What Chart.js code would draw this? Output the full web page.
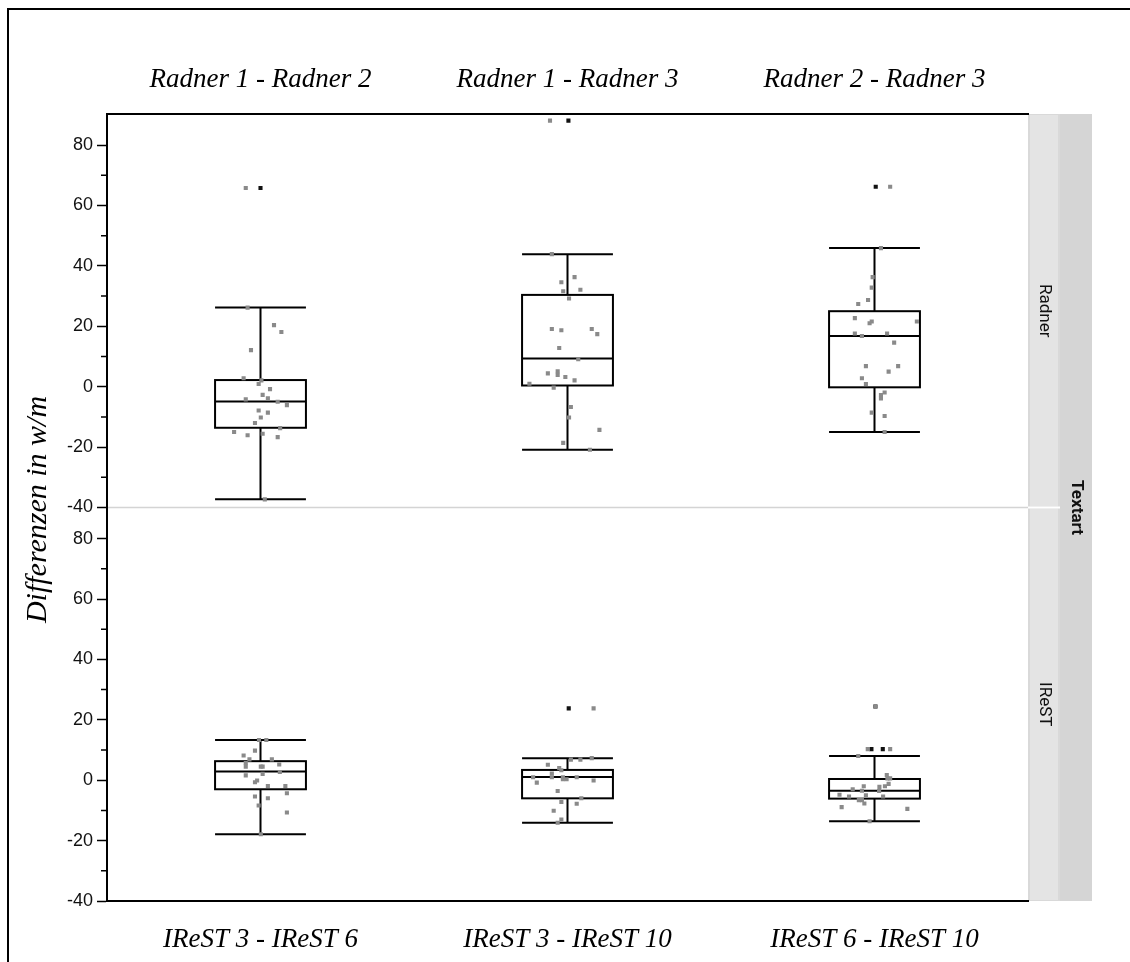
<!DOCTYPE html>
<html>
<head>
<meta charset="utf-8">
<script src="https://cdn.jsdelivr.net/npm/chart.js@4.4.1/dist/chart.umd.min.js"></script>
<style>
  html, body { margin: 0; padding: 0; background: #fff; }
  canvas { display: block; }
</style>
</head>
<body>
<canvas id="c" width="1130" height="962"></canvas>
<script>
// ---- categories and labels ----
const topLabels = ['Radner 1 - Radner 2', 'Radner 1 - Radner 3', 'Radner 2 - Radner 3'];
const bottomLabels = ['IReST 3 - IReST 6', 'IReST 3 - IReST 10', 'IReST 6 - IReST 10'];
const panelNames = ['Radner', 'IReST'];
const stripTitle = 'Textart';
const yTitle = 'Differenzen in w/m';
const majorTicks = [-40, -20, 0, 20, 40, 60, 80];
const minorTicks = [-30, -10, 10, 30, 50, 70];

// ---- box summaries: [lower whisker, Q1, median, Q3, upper whisker] ----
const radnerBoxes = [
  [-37.3, -13.6, -4.9, 2.2, 26.2],
  [-20.9, 0.4, 9.3, 30.4, 43.9],
  [-15.0, -0.2, 16.8, 25.0, 45.9]
];
const irestBoxes = [
  [-17.9, -3.0, 2.9, 6.3, 13.3],
  [-14.1, -6.0, 1.1, 3.4, 7.3],
  [-13.6, -6.1, -3.5, 0.4, 8.0]
];

// ---- individual differences (w/m) and their horizontal jitter (category units) ----
const radner12 = [65.8, 26.2, 20.4, 18.1, 12.1, 2.8, 2.1, 0.9, -0.8, -2.7, -3.8, -4.2, -5.0, -6.1, -7.9, -8.6, -10.2, -12.0, -13.7, -15.0, -16.1, -15.6, -16.7, -37.3];
const radner12Jitter = [-0.048, -0.042, 0.044, 0.068, -0.031, -0.055, 0.003, -0.006, 0.031, 0.007, 0.024, -0.048, 0.056, 0.086, -0.006, 0.024, 0.001, -0.018, 0.064, -0.086, -0.042, 0.007, 0.056, 0.014];

const radner13 = [88.1, 43.9, 36.3, 34.6, 32.1, 31.6, 29.2, 19.1, 18.7, 19.1, 17.4, 12.8, 9.1, 4.4, 5.1, 3.9, 3.2, 2.1, 1.0, -0.3, -6.7, -10.2, -14.3, -18.6, -20.9];
const radner13Jitter = [-0.057, -0.051, 0.023, -0.020, 0.042, -0.014, 0.005, -0.051, -0.020, 0.079, 0.097, -0.027, 0.035, -0.064, -0.032, -0.032, -0.007, 0.023, -0.124, -0.045, 0.011, 0.005, 0.104, -0.014, 0.073];

const radner23 = [66.2, 45.9, 36.3, 32.8, 28.7, 27.4, 22.7, 21.0, 21.6, 21.6, 17.6, 16.8, 17.6, 14.6, 6.8, 6.8, 5.0, 2.8, 0.9, -1.9, -2.8, -3.9, -8.6, -9.7, -15.0];
const radner23Jitter = [0.051, 0.021, -0.006, -0.009, -0.021, -0.053, -0.064, -0.016, -0.009, 0.138, -0.064, -0.041, 0.041, 0.064, -0.028, 0.077, 0.046, -0.041, -0.028, 0.033, 0.021, 0.021, -0.009, 0.033, 0.033];

const irest36 = [13.3, 13.3, 9.8, 8.2, 6.9, 5.7, 6.9, 4.5, 4.5, 4.5, 5.2, 2.1, 2.7, 1.6, -0.1, -0.7, -1.9, -1.9, -4.3, -5.4, -6.0, -8.4, -10.7, -17.9];
const irest36Jitter = [-0.005, 0.019, -0.018, -0.055, -0.036, -0.048, 0.037, -0.048, 0.001, 0.007, 0.061, 0.007, 0.063, -0.048, -0.011, -0.018, 0.024, 0.081, 0.086, -0.018, 0.024, -0.006, 0.086, 0.001];

const irest310 = [23.8, 6.8, 6.8, 7.3, 5.1, 4.0, 3.3, 2.2, 1.0, 1.0, 1.0, 0.3, 0.3, 1.0, -0.1, -0.8, -3.6, -6.0, -7.2, -7.8, -10.1, -13.0, -14.1];
const irest310Jitter = [0.085, 0.011, 0.042, 0.079, -0.064, -0.027, -0.020, -0.051, -0.051, -0.112, -0.015, -0.015, -0.003, 0.030, 0.085, -0.100, -0.032, 0.045, -0.020, 0.030, -0.045, -0.020, -0.032];

const irest610 = [24.4, 10.3, 10.3, 8.0, 1.7, 0.6, 0.6, -1.2, -2.0, -2.0, -2.2, -3.0, -3.5, -3.6, -4.8, -5.0, -5.4, -5.4, -6.6, -6.6, -7.7, -8.9, -9.5, -13.6];
const irest610Jitter = [0.003, -0.022, 0.051, -0.053, 0.040, 0.042, 0.051, 0.046, 0.034, -0.035, 0.016, -0.071, -0.041, 0.015, -0.114, -0.028, -0.083, 0.028, -0.051, -0.041, -0.033, -0.107, 0.107, -0.016];

// ---- outliers beyond the whiskers (values and small offsets) ----
const radnerOutliers = [[65.8], [88.1], [66.2]];
const radnerOutlierJitter = [[0.0], [0.003], [0.004]];
const irestOutliers = [[], [23.8], [24.4, 10.3, 10.3]];
const irestOutlierJitter = [[], [0.004], [0.003, -0.010, 0.027]];

// ---- helpers ----
function pts(values, jitter, cat) {
  return values.map((v, i) => ({ x: cat + jitter[i], y: v }));
}
function outlierPts(groups, jitters) {
  const out = [];
  groups.forEach((g, cat) => g.forEach((v, i) => out.push({ x: cat + jitters[cat][i], y: v })));
  return out;
}

const POINT_GREY = '#8a8a8a';
const BOX_HALF = 0.148;   // half box width in category units
const SANS = '"Liberation Sans", Arial, Helvetica, sans-serif';
const STRIP_FONT = 'Roboto, "Liberation Sans", Arial, sans-serif';
const SERIF = '"Liberation Serif", "Times New Roman", serif';

function pointSet(data, yAxisID, color) {
  return {
    type: 'scatter', data, xAxisID: 'x', yAxisID,
    pointStyle: 'rect', pointRadius: 2.9, pointHoverRadius: 2.9,
    backgroundColor: color, borderWidth: 0
  };
}

const datasets = [
  pointSet(pts(radner12, radner12Jitter, 0), 'yR', POINT_GREY),
  pointSet(pts(radner13, radner13Jitter, 1), 'yR', POINT_GREY),
  pointSet(pts(radner23, radner23Jitter, 2), 'yR', POINT_GREY),
  pointSet(pts(irest36, irest36Jitter, 0), 'yI', POINT_GREY),
  pointSet(pts(irest310, irest310Jitter, 1), 'yI', POINT_GREY),
  pointSet(pts(irest610, irest610Jitter, 2), 'yI', POINT_GREY),
  pointSet(outlierPts(radnerOutliers, radnerOutlierJitter), 'yR', '#111'),
  pointSet(outlierPts(irestOutliers, irestOutlierJitter), 'yI', '#111')
];

// box-and-whisker drawing, facet strips, frame and axis title
const boxPlotPlugin = {
  id: 'boxPlot',
  beforeDraw(chart) {
    const { ctx, chartArea } = chart;
    const yR = chart.scales.yR, yI = chart.scales.yI;
    ctx.save();
    // outer frame
    ctx.strokeStyle = '#000';
    ctx.lineWidth = 2;
    ctx.beginPath();
    ctx.moveTo(8, 962);
    ctx.lineTo(8, 9);
    ctx.lineTo(1130, 9);
    ctx.stroke();

    // facet strips
    const sx = chartArea.right, sw = 32;
    ctx.fillStyle = '#d5d5d5';
    ctx.fillRect(sx + sw, chartArea.top, sw, chartArea.bottom - chartArea.top);
    [yR, yI].forEach((s, k) => {
      ctx.fillStyle = '#d9d9d9';
      ctx.fillRect(sx, s.top, sw, s.bottom - s.top);
      ctx.fillStyle = '#e4e4e4';
      ctx.fillRect(sx + 2, s.top + 1, sw - 4, s.bottom - s.top - 2);
      ctx.save();
      ctx.translate(sx + sw / 2, (s.top + s.bottom) / 2);
      ctx.rotate(Math.PI / 2);
      ctx.fillStyle = '#111';
      ctx.font = '17px ' + STRIP_FONT;
      ctx.textAlign = 'center';
      ctx.textBaseline = 'middle';
      ctx.fillText(panelNames[k], 0, 0);
      ctx.restore();
    });
    ctx.fillStyle = '#fff';
    ctx.fillRect(sx, yR.bottom - 1, sw, 2);

    ctx.save();
    ctx.translate(sx + sw * 1.5, (chartArea.top + chartArea.bottom) / 2);
    ctx.rotate(Math.PI / 2);
    ctx.fillStyle = '#111';
    ctx.font = 'bold 17px ' + STRIP_FONT;
    ctx.textAlign = 'center';
    ctx.textBaseline = 'middle';
    ctx.fillText(stripTitle, 0, 0);
    ctx.restore();

    // y-axis title
    ctx.save();
    ctx.translate(38, (chartArea.top + chartArea.bottom) / 2 + 2);
    ctx.rotate(-Math.PI / 2);
    ctx.fillStyle = '#000';
    ctx.font = 'italic 30px ' + SERIF;
    ctx.textAlign = 'center';
    ctx.textBaseline = 'middle';
    ctx.fillText(yTitle, 0, 0);
    ctx.restore();
    ctx.restore();
  },
  beforeDatasetsDraw(chart) {
    const { ctx, chartArea } = chart;
    const x = chart.scales.x;
    const yR = chart.scales.yR, yI = chart.scales.yI;
    ctx.save();
    // panel separator
    ctx.strokeStyle = '#d4d4d4';
    ctx.lineWidth = 1.5;
    ctx.beginPath();
    ctx.moveTo(chartArea.left + 1, yR.bottom);
    ctx.lineTo(chartArea.right, yR.bottom);
    ctx.stroke();

    ctx.strokeStyle = '#000';
    ctx.lineWidth = 2;
    [[yR, radnerBoxes], [yI, irestBoxes]].forEach(([ys, boxes]) => {
      boxes.forEach((b, i) => {
        const cx = x.getPixelForValue(i);
        const l = x.getPixelForValue(i - BOX_HALF);
        const r = x.getPixelForValue(i + BOX_HALF);
        const [lo, q1, med, q3, hi] = b.map(v => ys.getPixelForValue(v));
        ctx.beginPath();
        // whiskers
        ctx.moveTo(cx, hi); ctx.lineTo(cx, q3);
        ctx.moveTo(cx, q1); ctx.lineTo(cx, lo);
        // caps
        ctx.moveTo(l, hi); ctx.lineTo(r, hi);
        ctx.moveTo(l, lo); ctx.lineTo(r, lo);
        // median
        ctx.moveTo(l, med); ctx.lineTo(r, med);
        ctx.stroke();
        ctx.strokeRect(l, q3, r - l, q1 - q3);
      });
    });
    ctx.restore();
  },
  afterDraw(chart) {
    const { ctx, chartArea } = chart;
    ctx.save();
    ctx.strokeStyle = '#000';
    ctx.lineWidth = 1.5;
    ctx.beginPath();
    [chart.scales.yR, chart.scales.yI].forEach(s => {
      minorTicks.forEach(v => {
        const py = s.getPixelForValue(v);
        ctx.moveTo(chartArea.left - 6, py);
        ctx.lineTo(chartArea.left, py);
      });
    });
    ctx.stroke();
    ctx.restore();
  }
};

const serifItalic = { family: SERIF, style: 'italic', size: 27 };
const sansTicks = { family: SANS, size: 18 };

function xAxis(position, labels, height, padding) {
  return {
    type: 'linear', position, min: -0.5, max: 2.5,
    afterBuildTicks: s => { s.ticks = labels.map((_, i) => ({ value: i })); },
    afterFit: s => { s.height = height; },
    ticks: { callback: v => labels[v], font: serifItalic, color: '#000', padding, maxRotation: 0, autoSkip: false },
    grid: { display: false },
    border: { display: true, color: '#000', width: 2 }
  };
}
function yAxis(weight) {
  return {
    type: 'linear', position: 'left', stack: 'panels', stackWeight: 1, weight,
    min: -40, max: 90.3,
    afterBuildTicks: s => { s.ticks = majorTicks.map(v => ({ value: v })); },
    afterFit: s => { s.width = 107; },
    ticks: { font: sansTicks, color: '#111', padding: 4 },
    grid: { drawOnChartArea: false, tickLength: 10, color: '#000', tickWidth: 1.5 },
    border: { display: true, color: '#000', width: 2 }
  };
}

new Chart(document.getElementById('c'), {
  type: 'scatter',
  data: { datasets },
  options: {
    responsive: false,
    animation: false,
    devicePixelRatio: 1,
    layout: { padding: { left: 0, right: 102, top: 0, bottom: 0 } },
    plugins: { legend: { display: false }, tooltip: { enabled: false } },
    scales: {
      x: xAxis('bottom', bottomLabels, 61, 15),
      xTop: xAxis('top', topLabels, 114, 10),
      yR: yAxis(2),
      yI: yAxis(1)
    }
  },
  plugins: [boxPlotPlugin]
});
</script>
</body>
</html>
